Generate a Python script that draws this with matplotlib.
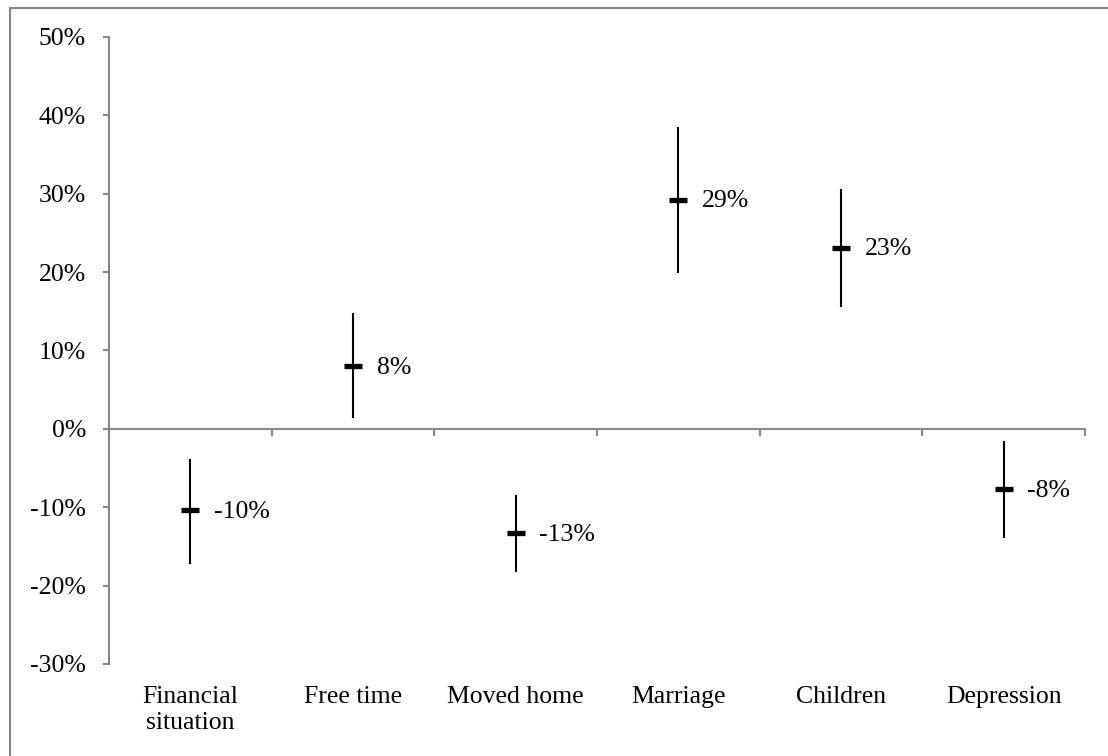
import matplotlib.pyplot as plt
from matplotlib.lines import Line2D

plt.rcParams['font.family'] = ['Liberation Serif', 'DejaVu Serif']

categories = ["Financial\nsituation", "Free time", "Moved home", "Marriage", "Children", "Depression"]
high = [-3.8, 14.8, -8.4, 38.5, 30.6, -1.6]
low = [-17.2, 1.4, -18.2, 19.9, 15.6, -13.9]
mean = [-10.4, 8.0, -13.3, 29.2, 23.1, -7.7]
labels = ["-10%", "8%", "-13%", "29%", "23%", "-8%"]

AXIS_GRAY = "#868686"
FS = 18.5

fig = plt.figure(figsize=(11.08, 7.56), dpi=100)
ax = fig.add_axes([109 / 1108, 1 - 664 / 756, (1085 - 109) / 1108, (664 - 37) / 756])

x = range(len(categories))
ax.vlines(x, low, high, color="black", linewidth=1.5)
ax.plot(x, mean, linestyle="none", marker="_", markersize=13, markeredgewidth=3.8, color="black")

for i, (m, lab) in enumerate(zip(mean, labels)):
    ax.annotate(lab, xy=(i, m), xytext=(17, -1), textcoords="offset points",
                ha="left", va="center", fontsize=FS)

ax.set_xlim(-0.5, len(categories) - 0.5)
ax.set_ylim(-30, 50)
ax.set_yticks(range(-30, 51, 10))
ax.set_yticklabels([f"{v}%" for v in range(-30, 51, 10)], fontsize=FS)

# category boundaries as ticks on the zero line
ax.set_xticks([i - 0.5 for i in range(len(categories) + 1)])
ax.set_xticklabels([])
ax.spines["bottom"].set_position(("data", 0))
ax.spines["top"].set_visible(False)
ax.spines["right"].set_visible(False)
for s in ("left", "bottom"):
    ax.spines[s].set_color(AXIS_GRAY)
    ax.spines[s].set_linewidth(1.5)
ax.tick_params(axis="y", direction="out", length=4.5, width=1.5, color=AXIS_GRAY, pad=12)
ax.tick_params(axis="x", direction="out", length=5, width=1.5, color=AXIS_GRAY)

# category names below the plot area
for i, name in enumerate(categories):
    ax.annotate(name, xy=(i, 0), xycoords=("data", "axes fraction"),
                xytext=(0, -16), textcoords="offset points",
                ha="center", va="top", fontsize=FS, linespacing=1.25)

# chart area border
fig.add_artist(Line2D([10 / 1108, 10 / 1108], [0, 1 - 8 / 756], transform=fig.transFigure,
                      color=AXIS_GRAY, linewidth=1.5))
fig.add_artist(Line2D([10 / 1108, 1], [1 - 8 / 756, 1 - 8 / 756], transform=fig.transFigure,
                      color=AXIS_GRAY, linewidth=1.5))

fig.savefig("out.png", dpi=100)
